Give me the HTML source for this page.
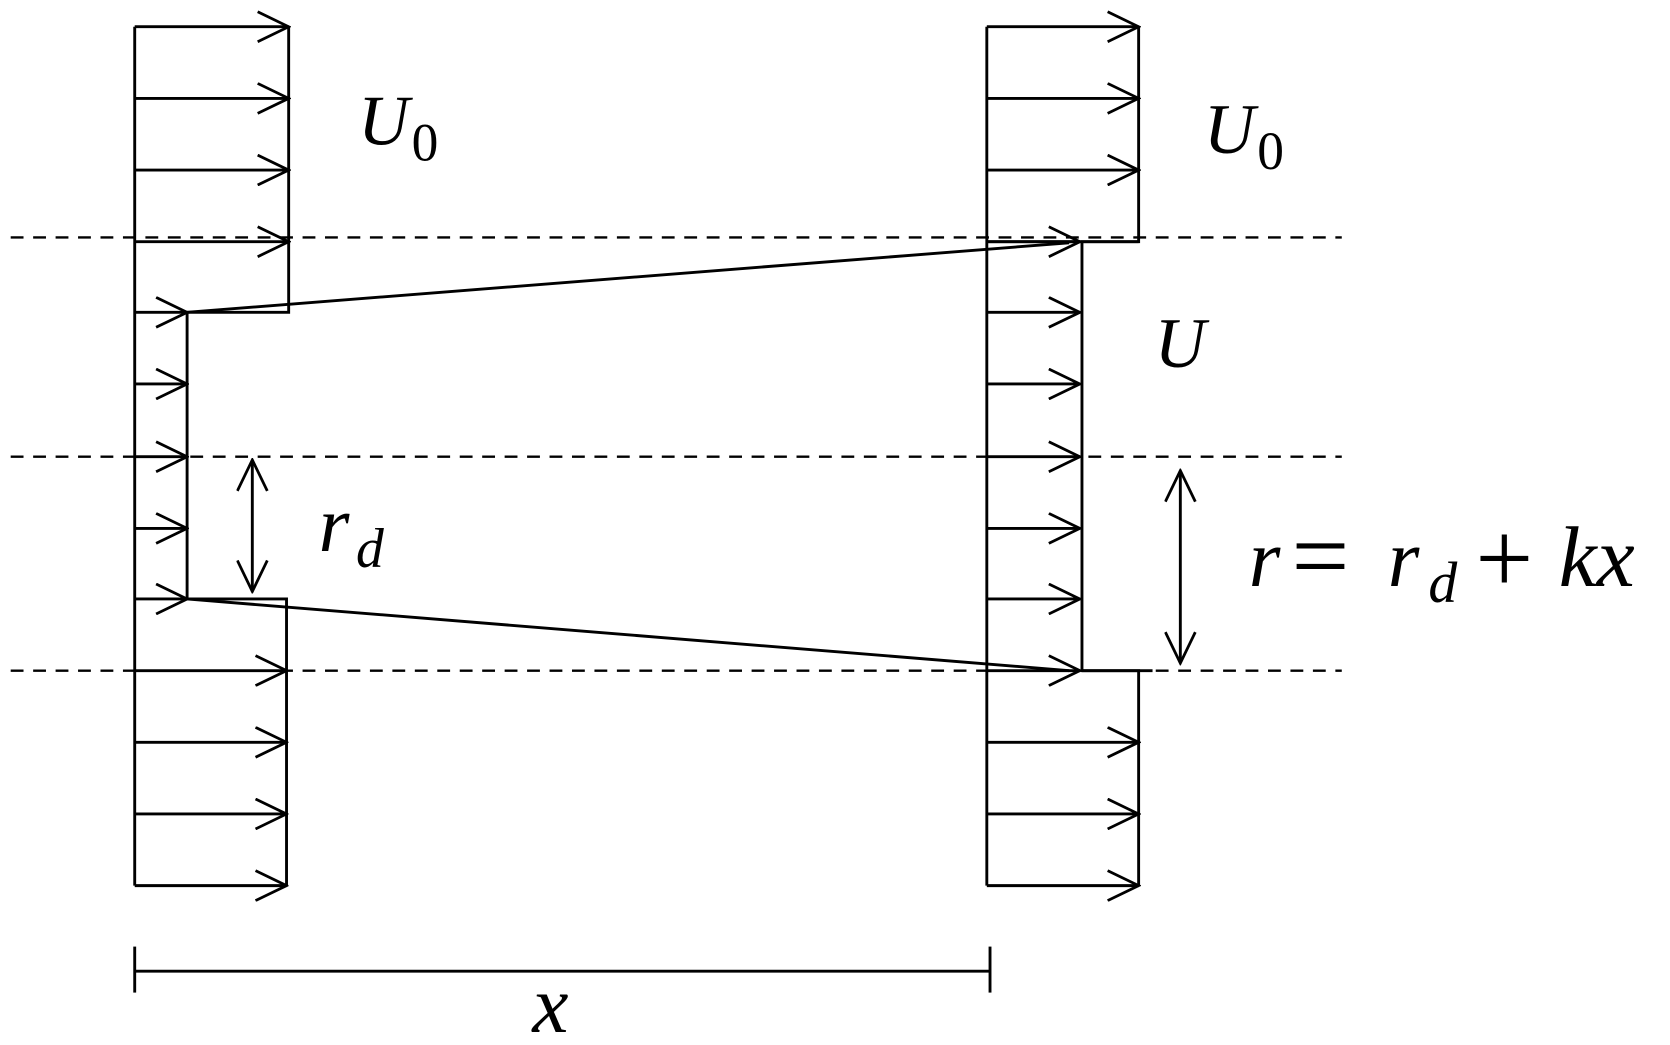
<!DOCTYPE html>
<html><head><style>html,body{margin:0;padding:0;background:#fff}svg{display:block}</style></head>
<body>
<svg width="1670" height="1045" viewBox="0 0 1562 977" preserveAspectRatio="none" xmlns="http://www.w3.org/2000/svg">
<defs>
<marker id="a" markerWidth="34" markerHeight="30" refX="32" refY="15" orient="auto" markerUnits="userSpaceOnUse">
<path d="M3,1 L32,15 L3,29" fill="none" stroke="#000" stroke-width="2.6"/>
</marker>
<marker id="s" markerWidth="34" markerHeight="30" refX="2" refY="15" orient="auto" markerUnits="userSpaceOnUse">
<path d="M31,1 L2,15 L31,29" fill="none" stroke="#000" stroke-width="2.6"/>
</marker>
</defs>
<g stroke="#000" stroke-width="2.7" fill="none">
<g stroke-dasharray="12,9" stroke-width="2.2">
<line x1="10" y1="222" x2="1255" y2="222"/>
<line x1="10" y1="427" x2="1255" y2="427"/>
<line x1="10" y1="627" x2="1255" y2="627"/>
</g>
<line x1="126" y1="25" x2="126" y2="828"/>
<polyline points="270,25 270,292 175,292 175,560 268,560 268,828"/>
<g marker-end="url(#a)">
<line x1="126" y1="25" x2="270" y2="25"/>
<line x1="126" y1="92" x2="270" y2="92"/>
<line x1="126" y1="159" x2="270" y2="159"/>
<line x1="126" y1="226" x2="270" y2="226"/>
<line x1="126" y1="292" x2="175" y2="292"/>
<line x1="126" y1="359" x2="175" y2="359"/>
<line x1="126" y1="427" x2="175" y2="427"/>
<line x1="126" y1="494" x2="175" y2="494"/>
<line x1="126" y1="560" x2="175" y2="560"/>
<line x1="126" y1="627" x2="268" y2="627"/>
<line x1="126" y1="694" x2="268" y2="694"/>
<line x1="126" y1="761" x2="268" y2="761"/>
<line x1="126" y1="828" x2="268" y2="828"/>
</g>
<line x1="923" y1="25" x2="923" y2="828"/>
<polyline points="1065,25 1065,226 1012,226 1012,627 1065,627 1065,828"/>
<line x1="923" y1="226" x2="1065" y2="226"/>
<line x1="1012" y1="627" x2="1078" y2="627"/>
<g marker-end="url(#a)">
<line x1="923" y1="25" x2="1065" y2="25"/>
<line x1="923" y1="92" x2="1065" y2="92"/>
<line x1="923" y1="159" x2="1065" y2="159"/>
<line x1="923" y1="226" x2="1010" y2="226"/>
<line x1="923" y1="292" x2="1010" y2="292"/>
<line x1="923" y1="359" x2="1010" y2="359"/>
<line x1="923" y1="427" x2="1010" y2="427"/>
<line x1="923" y1="494" x2="1010" y2="494"/>
<line x1="923" y1="560" x2="1010" y2="560"/>
<line x1="923" y1="627" x2="1010" y2="627"/>
<line x1="923" y1="694" x2="1065" y2="694"/>
<line x1="923" y1="761" x2="1065" y2="761"/>
<line x1="923" y1="828" x2="1065" y2="828"/>
</g>
<line x1="175" y1="292" x2="1000" y2="227"/>
<line x1="175" y1="560" x2="1000" y2="627"/>
<line x1="236" y1="430" x2="236" y2="553" marker-start="url(#s)" marker-end="url(#a)"/>
<line x1="1104" y1="440" x2="1104" y2="620" marker-start="url(#s)" marker-end="url(#a)"/>
<line x1="126" y1="908" x2="926" y2="908"/>
<line x1="126" y1="885" x2="126" y2="928"/>
<line x1="926" y1="885" x2="926" y2="928"/>
</g>
<g font-family="Liberation Serif, serif" font-style="italic" fill="#000">
<text x="335" y="135" font-size="66">U</text>
<text x="385" y="150" font-size="50" font-style="normal">0</text>
<text x="1126" y="143" font-size="66">U</text>
<text x="1176" y="158" font-size="50" font-style="normal">0</text>
<text x="1080" y="343" font-size="66">U</text>
<text x="298" y="515" font-size="74">r</text>
<text x="333" y="530" font-size="52">d</text>
<text x="1168" y="548" font-size="76">r</text>
<text x="1208" y="552" font-size="96" font-style="normal">=</text>
<text x="1298" y="548" font-size="76">r</text>
<text x="1336" y="563" font-size="54">d</text>
<text x="1380" y="554" font-size="96" font-style="normal">+</text>
<text x="1458" y="548" font-size="80">kx</text>
<text x="498" y="965" font-size="76">x</text>
</g>
</svg>
</body></html>
